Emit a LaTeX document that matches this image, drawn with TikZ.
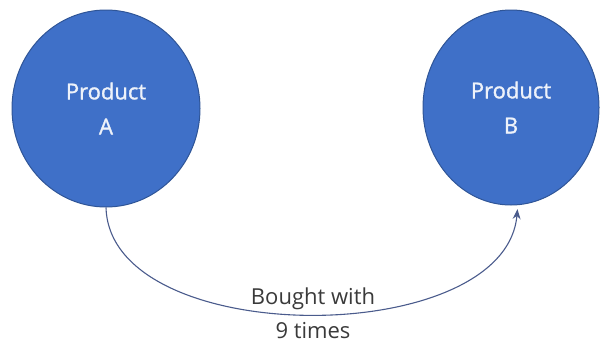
\documentclass[tikz,border=0pt]{standalone}
\usepackage{fontspec}
\setmainfont{Open Sans}
\newfontfamily\prodfont[FakeBold=1.3]{Open Sans}
\usetikzlibrary{shapes.geometric,arrows.meta}
\definecolor{prodfill}{HTML}{3F70C8}
\definecolor{prodline}{HTML}{2F5597}
\definecolor{prodtext}{HTML}{EEF2FA}
\definecolor{connline}{HTML}{4A5B8C}
\definecolor{labeltext}{HTML}{3A3A3A}
\tikzset{
  product/.style={ellipse, draw=prodline, line width=1pt, fill=prodfill,
    inner sep=0pt, text=prodtext, align=center,
    font=\prodfont\fontsize{22}{35}\selectfont},
  conn/.style={draw=connline, line width=1.1pt,
    -{Stealth[length=10pt,width=8pt,fill=connline]}},
  lbltext/.style={text=labeltext, inner sep=0pt, anchor=base,
    font=\fontsize{22}{26}\selectfont}
}
\begin{document}
\begin{tikzpicture}[x=1pt,y=-1pt]
  \useasboundingbox (0,0) rectangle (601,343);
  \node[product, minimum width=188pt, minimum height=197pt] (A) at (106,108.5) {Product\\A};
  \node[product, minimum width=176pt, minimum height=195pt] (B) at (511,107.5) {Product\\B};
  \draw[conn, shorten >=4pt] (A.south) .. controls (110,350) and (505,350) .. (B.-86);
  \node[lbltext] (l1) at (313,304) {Bought with};
  \node[lbltext] (l2) at (313,338) {9 times};
\end{tikzpicture}
\end{document}
